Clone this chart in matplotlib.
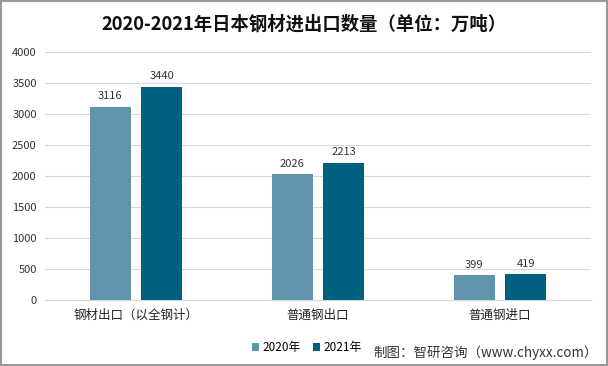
import numpy as np
import matplotlib.pyplot as plt
from matplotlib.patches import Rectangle

plt.rcParams['font.family'] = ['Noto Sans CJK SC', 'DejaVu Sans']

categories = ['钢材出口（以全钢计）', '普通钢出口', '普通钢进口']
series_names = ['2020年', '2021年']
values_2020 = [3116, 2026, 399]
values_2021 = [3440, 2213, 419]
yticks = [0, 500, 1000, 1500, 2000, 2500, 3000, 3500, 4000]

colors = ['#6093AC', '#00607F']

fig = plt.figure(figsize=(6.08, 3.66), dpi=100)
ax = fig.add_axes([0.074, 0.180, 0.898, 0.678])

x = np.arange(len(categories))
w = 0.225
gap = 0.06
for i, (vals, name) in enumerate(zip([values_2020, values_2021], series_names)):
    off = (i - 0.5) * (w + gap)
    bars = ax.bar(x + off, vals, width=w, color=colors[i], label=name, zorder=3)
    for b, v in zip(bars, vals):
        ax.text(b.get_x() + b.get_width() / 2, v + 90, str(v),
                ha='center', va='bottom', fontsize=8, color='#333333')

ax.set_xlim(-0.5, 2.5)
ax.set_ylim(0, 4000)
ax.set_yticks(yticks)
ax.set_yticklabels([str(t) for t in yticks], fontsize=8, color='#333333')
ax.set_xticks(x)
ax.set_xticklabels(categories, fontsize=9, color='#222222')
ax.tick_params(axis='both', length=0, pad=6)
ax.yaxis.grid(True, color='#d9d9d9', linewidth=0.8, zorder=0)
for s in ['top', 'right', 'left']:
    ax.spines[s].set_visible(False)
ax.spines['bottom'].set_color('#d9d9d9')

fig.text(0.5, 0.935, '2020-2021年日本钢材进出口数量（单位：万吨）',
         ha='center', va='center', fontsize=13.2, fontweight='bold', color='#111111')

leg = fig.legend(loc='center', bbox_to_anchor=(0.505, 0.05), ncol=2, frameon=False,
                 fontsize=8.5, handlelength=0.6, handleheight=0.6, handletextpad=0.3,
                 columnspacing=1.0)

fig.text(0.984, 0.035, '制图：智研咨询（www.chyxx.com）', ha='right', va='center',
         fontsize=9.7, color='#333333')

fig.patches.append(Rectangle((0.002, 0.003), 0.996, 0.994, transform=fig.transFigure,
                             fill=False, edgecolor='#999999', linewidth=1.5))

fig.savefig('out.png', dpi=100)
